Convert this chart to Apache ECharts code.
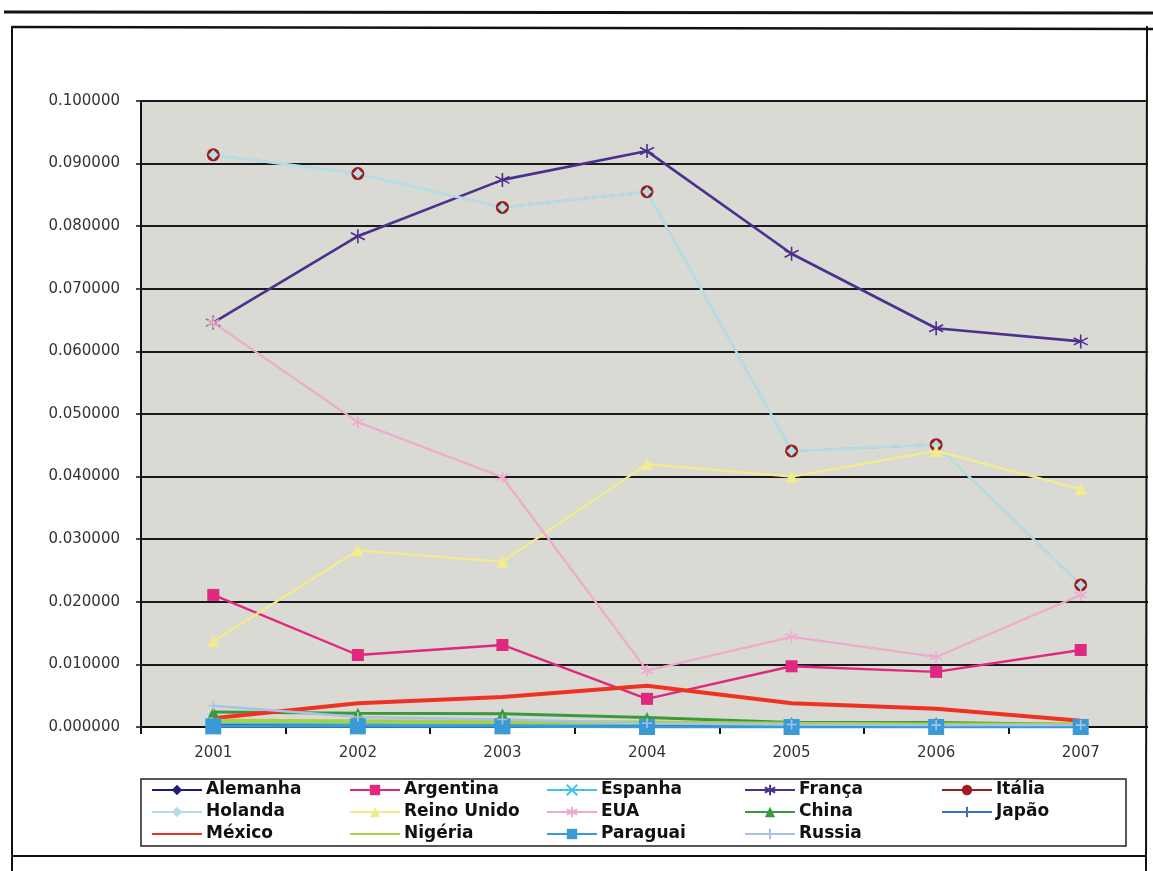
<!DOCTYPE html>
<html>
<head>
<meta charset="utf-8">
<title>Evolução 2001-2007</title>
<script src="https://cdn.jsdelivr.net/npm/echarts@6/dist/echarts.min.js"></script>
<style>
  html, body { margin: 0; padding: 0; background: #ffffff; }
  #chart { width: 1153px; height: 871px; }
</style>
</head>
<body>
<div id="chart"></div>
<script>
// Categories and series values
const years = ['2001', '2002', '2003', '2004', '2005', '2006', '2007'];

const alemanha   = [0.0004, 0.0003, 0.0003, 0.0002, 0.0002, 0.0002, 0.0002];
const argentina  = [0.0211, 0.0115, 0.0131, 0.0045, 0.0097, 0.0088, 0.0123];
const espanha    = [0.0006, 0.0005, 0.0005, 0.0004, 0.0003, 0.0003, 0.0003];
const franca     = [0.0646, 0.0784, 0.0874, 0.0920, 0.0756, 0.0637, 0.0616];
const italia     = [0.0914, 0.0884, 0.0830, 0.0855, 0.0441, 0.0451, 0.0227];
const holanda    = [0.0914, 0.0884, 0.0830, 0.0855, 0.0441, 0.0451, 0.0227];
const reinoUnido = [0.0137, 0.0282, 0.0264, 0.0420, 0.0400, 0.0441, 0.0380];
const eua        = [0.0646, 0.0487, 0.0399, 0.0090, 0.0144, 0.0112, 0.0211];
const china      = [0.0024, 0.0022, 0.0021, 0.0015, 0.0007, 0.0007, 0.0004];
const japao      = [0.0002, 0.0002, 0.0002, 0.0001, 0.0001, 0.0001, 0.0001];
const mexico     = [0.0014, 0.0038, 0.0048, 0.0066, 0.0038, 0.0029, 0.0010];
const nigeria    = [0.0010, 0.0009, 0.0008, 0.0007, 0.0005, 0.0004, 0.0004];
const paraguai   = [0.0001, 0.0001, 0.0001, 0.0000, 0.0000, 0.0000, 0.0000];
const russia     = [0.0034, 0.0016, 0.0012, 0.0006, 0.0004, 0.0003, 0.0003];

// Y axis range and step
const yMin = 0;
const yMax = 0.1;
const yStep = 0.01;

// Stroke-only marker shapes
const ASTERISK = 'path://M0,-10L0,10M-8.7,-5L8.7,5M-8.7,5L8.7,-5';
const CROSS_X = 'path://M-7,-7L7,7M-7,7L7,-7';
const PLUS = 'path://M0,-7L0,7M-7,0L7,0';

function lineSeries(name, data, color, opts) {
  opts = opts || {};
  const stroked = opts.stroked;
  return {
    name: name,
    type: 'line',
    data: data,
    symbol: opts.symbol || 'none',
    symbolSize: opts.size || 8,
    showSymbol: opts.symbol !== undefined,
    lineStyle: { color: color, width: opts.width || 2.2, type: opts.dash || 'solid' },
    itemStyle: stroked
      ? { color: 'rgba(0,0,0,0)', borderColor: color, borderWidth: 1.6 }
      : { color: color, borderColor: color, borderWidth: 0 },
    emphasis: { disabled: true },
    animation: false,
    z: opts.z || 2
  };
}

const series = [
  lineSeries('Alemanha', alemanha, '#1c1f7a', { symbol: 'diamond', size: 11 }),
  lineSeries('Argentina', argentina, '#e0287f', { symbol: 'rect', size: 12, width: 2.4 }),
  lineSeries('Espanha', espanha, '#43c3ec', { symbol: CROSS_X, size: 11, stroked: true }),
  lineSeries('França', franca, '#4d2f8e', { symbol: ASTERISK, size: 14, stroked: true, width: 2.6 }),
  lineSeries('Itália', italia, '#9b1d1d', { symbol: 'circle', size: 13, width: 1.5 }),
  lineSeries('Holanda', holanda, '#b6dde6', { symbol: 'diamond', size: 10, width: 2.6 }),
  lineSeries('Reino Unido', reinoUnido, '#f4ec8c', { symbol: 'triangle', size: 12, width: 2.2 }),
  lineSeries('EUA', eua, '#f0aacb', { symbol: ASTERISK, size: 12, stroked: true, width: 2.2 }),
  lineSeries('China', china, '#3a9a3a', { symbol: 'triangle', size: 11, width: 3 }),
  lineSeries('Japão', japao, '#3f6fc4', { symbol: PLUS, size: 11, stroked: true }),
  lineSeries('México', mexico, '#ee3322', { width: 4 }),
  lineSeries('Nigéria', nigeria, '#a9d043', { width: 4 }),
  lineSeries('Paraguai', paraguai, '#3a9ad6', { symbol: 'rect', size: 16, width: 3 }),
  lineSeries('Russia', russia, '#a9c2e3', { symbol: PLUS, size: 10, stroked: true, width: 2.4 })
];

// Series drawn as a plain line (no marker) also show a plain line in the legend
const plainLine = ['México', 'Nigéria'];

// Legend laid out in five columns
const legendColumns = [
  ['Alemanha', 'Holanda', 'México'],
  ['Argentina', 'Reino Unido', 'Nigéria'],
  ['Espanha', 'EUA', 'Paraguai'],
  ['França', 'China', 'Russia'],
  ['Itália', 'Japão']
];
const legendLeft = [151, 349, 546, 744, 941];

const legends = legendColumns.map(function (col, i) {
  return {
    orient: 'vertical',
    left: legendLeft[i],
    top: 781,
    data: col.map(function (name) {
      return plainLine.indexOf(name) >= 0
        ? { name: name, itemStyle: { opacity: 0 } }
        : { name: name };
    }),
    itemWidth: 50,
    itemHeight: 13,
    itemGap: 4,
    padding: 0,
    selectedMode: false,
    textStyle: {
      fontFamily: 'DejaVu Sans',
      fontWeight: 'bold',
      fontSize: 17,
      lineHeight: 18,
      color: '#111111',
      padding: [0, 0, 0, -1]
    }
  };
});

const chart = echarts.init(document.getElementById('chart'), null, { renderer: 'canvas' });

chart.setOption({
  backgroundColor: '#ffffff',
  animation: false,
  grid: {
    left: 141,
    top: 101,
    right: -21,
    bottom: 871 - 727,
    show: true,
    backgroundColor: '#d8dad3',
    borderWidth: 0
  },
  xAxis: {
    type: 'category',
    data: years,
    boundaryGap: true,
    axisLine: { lineStyle: { color: '#111111', width: 2 } },
    axisTick: { show: true, length: 7, lineStyle: { color: '#111111', width: 2 } },
    axisLabel: {
      fontFamily: 'DejaVu Sans',
      fontSize: 15,
      color: '#333333',
      margin: 19
    },
    splitLine: { show: false }
  },
  yAxis: {
    type: 'value',
    min: yMin,
    max: yMax,
    interval: yStep,
    axisLine: { show: true, lineStyle: { color: '#111111', width: 2 } },
    axisTick: { show: true, length: 5, lineStyle: { color: '#111111', width: 1.5 } },
    axisLabel: {
      fontFamily: 'DejaVu Sans',
      fontSize: 15,
      color: '#333333',
      margin: 21,
      formatter: function (v) { return v.toFixed(6); }
    },
    splitLine: { show: true, lineStyle: { color: '#1a1a1a', width: 2 } }
  },
  legend: legends,
  series: series,
  graphic: [
    // strip past the chart frame on the right
    { type: 'rect', z: 50, shape: { x: 1148, y: 0, width: 10, height: 871 }, style: { fill: '#ffffff' } },
    // outer frame
    { type: 'line', z: 60, shape: { x1: 4, y1: 12, x2: 1153, y2: 13 }, style: { stroke: '#111111', lineWidth: 3 } },
    { type: 'line', z: 60, shape: { x1: 12, y1: 27, x2: 1153, y2: 29 }, style: { stroke: '#111111', lineWidth: 2.5 } },
    { type: 'line', z: 60, shape: { x1: 12, y1: 26, x2: 12, y2: 871 }, style: { stroke: '#111111', lineWidth: 2 } },
    { type: 'line', z: 60, shape: { x1: 1147, y1: 26, x2: 1146, y2: 871 }, style: { stroke: '#111111', lineWidth: 2 } },
    { type: 'line', z: 60, shape: { x1: 12, y1: 856, x2: 1146, y2: 856 }, style: { stroke: '#111111', lineWidth: 2 } },
    // legend box
    { type: 'rect', z: 1, shape: { x: 141, y: 779, width: 985, height: 67 }, style: { fill: 'none', stroke: '#222222', lineWidth: 1.5 } }
  ]
});
</script>
</body>
</html>
